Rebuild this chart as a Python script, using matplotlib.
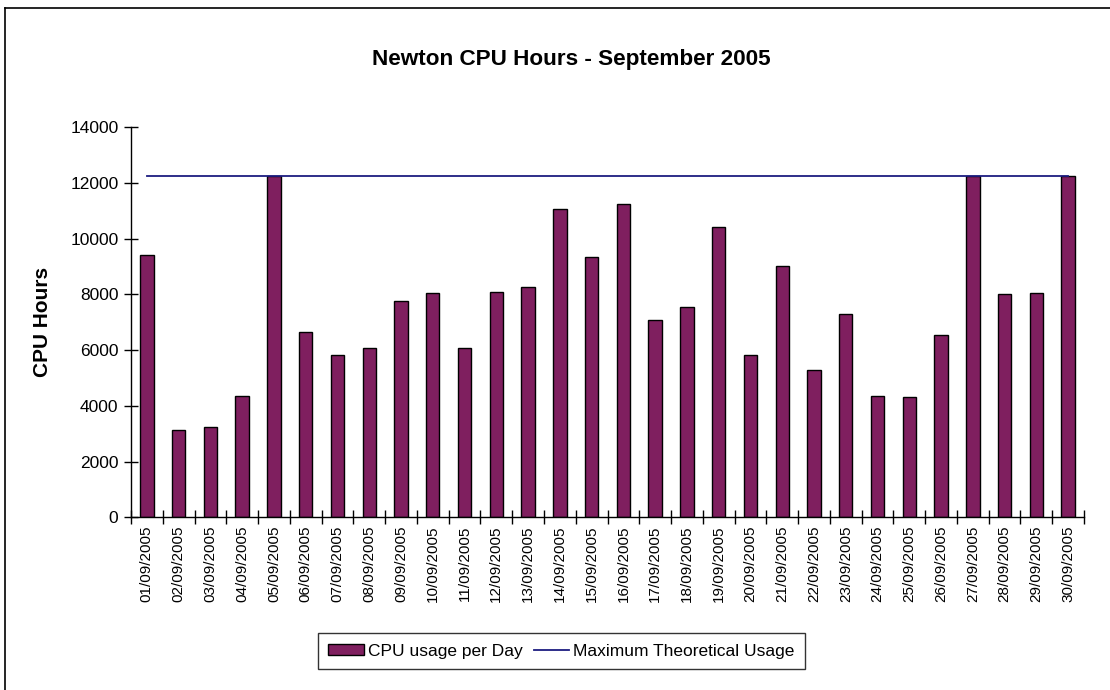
import matplotlib
matplotlib.use("Agg")
import matplotlib.pyplot as plt
from matplotlib.lines import Line2D
from matplotlib.patches import Patch

plt.rcParams['font.family'] = ['Liberation Sans', 'DejaVu Sans']

dates = ["%02d/09/2005" % d for d in range(1, 31)]
cpu_hours = [9430, 3130, 3230, 4350, 12264, 6640, 5830, 6080, 7750, 8050,
             6080, 8100, 8255, 11055, 9330, 11255, 7095, 7535, 10430, 5830,
             9020, 5275, 7300, 4355, 4305, 6535, 12264, 8015, 8050, 12264]
max_usage = 12264

title = "Newton CPU Hours - September 2005"
ylabel = "CPU Hours"
bar_label = "CPU usage per Day"
line_label = "Maximum Theoretical Usage"

bar_color = "#7f1f5f"
line_color = "#1c1c80"

fig = plt.figure(figsize=(11.1, 6.9), dpi=100)
ax = fig.add_axes([0.118, 0.2503, 0.8586, 0.5652])

x = list(range(len(dates)))
ax.bar(x, cpu_hours, width=0.42, color=bar_color, edgecolor="black", linewidth=1.0, zorder=2)
ax.plot([x[0], x[-1]], [max_usage, max_usage], color=line_color, linewidth=1.3, zorder=3)

ax.set_xlim(-0.5, len(dates) - 0.5)
ax.set_ylim(0, 14000)
ax.set_yticks(range(0, 14001, 2000))
ax.tick_params(axis='y', labelsize=12.5, direction='inout', length=10, width=1, pad=4)

ax.set_xticks(x)
ax.set_xticklabels(dates, rotation=90, fontsize=11)
ax.tick_params(axis='x', length=0, pad=6)
ax.set_xticks([i - 0.5 for i in range(len(dates) + 1)], minor=True)
ax.tick_params(axis='x', which='minor', direction='inout', length=10, width=1)

for s in ['top', 'right']:
    ax.spines[s].set_visible(False)
for s in ['left', 'bottom']:
    ax.spines[s].set_linewidth(1)

fig.text(0.515, 0.914, title, ha='center', va='center', fontsize=16.2, fontweight='bold')
fig.text(0.038, 0.533, ylabel, ha='center', va='center', rotation=90, fontsize=15, fontweight='bold')

handles = [Patch(facecolor=bar_color, edgecolor='black', linewidth=1.0),
           Line2D([0], [0], color=line_color, linewidth=1.3)]
leg = fig.legend(handles, [bar_label, line_label], loc='center', bbox_to_anchor=(0.506, 0.056),
                 ncol=2, fontsize=12.5, frameon=True, fancybox=False, edgecolor='black',
                 handlelength=2.05, handleheight=0.6, handletextpad=0.25, columnspacing=0.6,
                 borderpad=0.6, borderaxespad=0)
leg.get_frame().set_linewidth(1)

# outer chart border (left and top visible)
fig.add_artist(Line2D([5/1110, 5/1110], [0, 1 - 8/690], transform=fig.transFigure, color='black', linewidth=1.2))
fig.add_artist(Line2D([5/1110, 1], [1 - 8/690, 1 - 8/690], transform=fig.transFigure, color='black', linewidth=1.2))

fig.savefig("out.png", dpi=100)
